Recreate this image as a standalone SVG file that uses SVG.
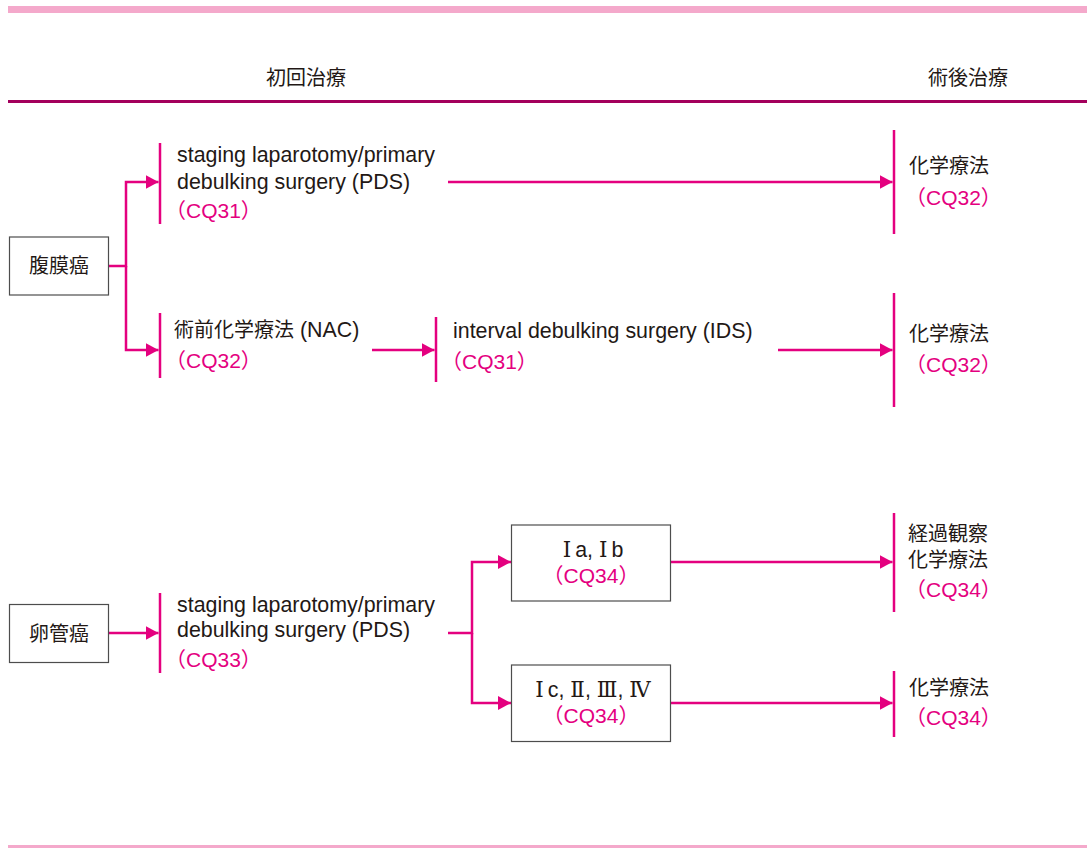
<svg xmlns="http://www.w3.org/2000/svg" width="1087" height="848" viewBox="0 0 1087 848">
<style>
.t{font-family:"Liberation Sans","Noto Sans CJK JP",sans-serif;fill:#231815;font-size:21.4px}
.j{font-family:"Noto Sans CJK JP",sans-serif;fill:#231815;font-size:20px}
.cq{font-family:"Liberation Sans","Noto Sans CJK JP",sans-serif;fill:#e4007f;font-size:21px}
.rn{font-family:"DejaVu Serif","Liberation Serif",serif}
.bar{stroke:#e4007f;stroke-width:2.5;fill:none}
.box{fill:#fff;stroke:#4d4d4d;stroke-width:1.2}
.c{stroke:#e4007f;stroke-width:2.5;fill:none;marker-end:url(#ah)}
</style>
<defs>
<marker id="ah" markerWidth="13" markerHeight="14" refX="13" refY="7" orient="auto" markerUnits="userSpaceOnUse"><path d="M0,0 L13,7 L0,14 z" fill="#e4007f"/></marker>
</defs>
<rect x="0" y="0" width="1087" height="848" fill="#fff"/>
<rect x="8" y="6" width="1079" height="7" fill="#f4a9cb"/>
<rect x="8" y="100" width="1079" height="3" fill="#a3005c"/>
<rect x="8" y="845" width="1079" height="3" fill="#f4a9cb"/>
<text class="j" x="306" y="85" text-anchor="middle">初回治療</text>
<text class="j" x="968" y="85" text-anchor="middle">術後治療</text>

<g id="connectors">
<path class="c" d="M109 266 H126 V182 H158.5"/>
<path class="c" d="M126 266 V350 H158.5"/>
<path class="c" d="M448 182 H892.5"/>
<path class="c" d="M372 350 H434.5"/>
<path class="c" d="M778 350 H892.5"/>
<path class="c" d="M109 633 H158.5"/>
<path class="c" d="M448 633 H472 V562 H511"/>
<path class="c" d="M472 633 V703 H511"/>
<path class="c" d="M671 562 H892.5"/>
<path class="c" d="M671 703 H892.5"/>
</g>

<g id="peritoneal">
<rect class="box" x="9.5" y="237" width="99" height="58"/>
<text class="j" x="59" y="273" text-anchor="middle">腹膜癌</text>
</g>
<g id="pds1">
<line class="bar" x1="160" y1="143" x2="160" y2="224"/>
<text class="t" x="177" y="162">staging laparotomy/primary<tspan x="177" dy="27">debulking surgery (PDS)</tspan></text>
<text class="cq" x="165" y="218">（CQ31）</text>
</g>
<g id="nac">
<line class="bar" x1="160" y1="313" x2="160" y2="378"/>
<text class="t" x="174" y="337"><tspan font-size="20">術前化学療法</tspan> (NAC)</text>
<text class="cq" x="165" y="368">（CQ32）</text>
</g>
<g id="ids">
<line class="bar" x1="436" y1="317" x2="436" y2="382"/>
<text class="t" x="453" y="338">interval debulking surgery (IDS)</text>
<text class="cq" x="441" y="369">（CQ31）</text>
</g>
<g id="chemo1">
<line class="bar" x1="894" y1="130" x2="894" y2="234"/>
<text class="j" x="909" y="173">化学療法</text>
<text class="cq" x="905" y="205">（CQ32）</text>
</g>
<g id="chemo2">
<line class="bar" x1="894" y1="293" x2="894" y2="407"/>
<text class="j" x="909" y="341">化学療法</text>
<text class="cq" x="905" y="372">（CQ32）</text>
</g>

<g id="tubal">
<rect class="box" x="9.5" y="604.5" width="99" height="58"/>
<text class="j" x="59" y="641" text-anchor="middle">卵管癌</text>
</g>
<g id="pds2">
<line class="bar" x1="160" y1="593" x2="160" y2="673"/>
<text class="t" x="177" y="612">staging laparotomy/primary<tspan x="177" dy="25">debulking surgery (PDS)</tspan></text>
<text class="cq" x="165" y="667">（CQ33）</text>
</g>
<g id="stage-iab">
<rect class="box" x="511.5" y="525" width="159" height="76"/>
<text class="t" x="593" y="557" text-anchor="middle" font-size="22"><tspan class="rn">Ⅰ</tspan><tspan dx="4">a, </tspan><tspan class="rn">Ⅰ</tspan><tspan dx="4">b</tspan></text>
<text class="cq" x="591" y="582.5" text-anchor="middle">（CQ34）</text>
</g>
<g id="stage-ic">
<rect class="box" x="511.5" y="665" width="159" height="76.5"/>
<text class="t" x="593" y="697" text-anchor="middle" font-size="21"><tspan class="rn">Ⅰ</tspan><tspan dx="4">c, </tspan><tspan class="rn">Ⅱ</tspan>, <tspan class="rn">Ⅲ</tspan>, <tspan class="rn">Ⅳ</tspan></text>
<text class="cq" x="591" y="723" text-anchor="middle">（CQ34）</text>
</g>
<g id="observe">
<line class="bar" x1="894" y1="513" x2="894" y2="612"/>
<text class="j" x="908" y="541">経過観察<tspan x="908" dy="26">化学療法</tspan></text>
<text class="cq" x="905" y="597">（CQ34）</text>
</g>
<g id="chemo3">
<line class="bar" x1="894" y1="671" x2="894" y2="737"/>
<text class="j" x="909" y="695">化学療法</text>
<text class="cq" x="905" y="725">（CQ34）</text>
</g>
</svg>
